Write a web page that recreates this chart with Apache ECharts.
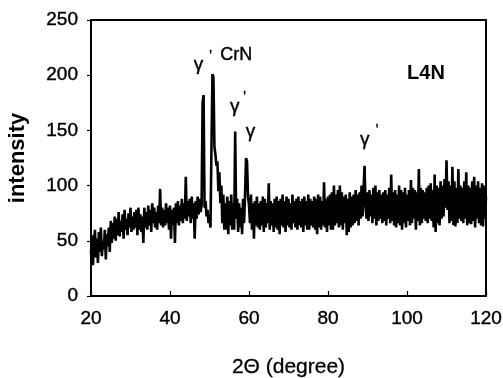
<!DOCTYPE html>
<html><head><meta charset="utf-8">
<script src="https://cdn.jsdelivr.net/npm/echarts@6/dist/echarts.min.js"></script>
<style>html,body{margin:0;padding:0;background:#fff}#c{width:503px;height:378px}</style>
</head><body><div id="c"></div>
<script>
// 2-theta sampling: start angle and step (degrees)
const angleStart = 20;
const angleStep = 0.25;
// intensity, 4 samples per degree, 20 .. 120
const intensity = [
  38,55,28,48, 60,35,52,30, 58,40,62,36, 50,42,60,33, 56,45,62,40,
  68,48,66,52, 72,50,70,55, 76,54,68,58, 74,52,78,60, 70,55,75,62,
  80,58,72,60, 76,62,78,55, 80,60,74,58, 72,48,80,62, 76,60,82,64,
  78,58,84,66, 80,62,76,60, 82,66,97,64, 80,62,78,64, 84,66,80,60,
  82,52,78,64, 80,48,84,66, 86,64,82,68, 88,66,84,70, 108,68,86,72,
  88,66,90,70, 84,52,86,70, 90,74,88,76, 82,175,182,80, 86,72,78,66,
  72,62,135,201, 198,135,128,118, 122,95,112,84, 100,66,92,60, 84,60,90,56,
  86,64,92,60, 84,60,149,70, 88,58,84,62, 80,56,88,66, 92,125,122,90,
  82,66,92,60, 84,52,86,64, 90,62,84,60, 86,64,90,58, 88,62,84,66,
  102,60,86,64, 84,58,88,62, 90,60,86,56, 88,64,92,62, 86,58,90,64,
  88,62,84,60, 92,66,86,62, 88,60,90,64, 86,62,88,58, 90,64,86,60,
  92,60,88,64, 86,62,90,60, 88,56,92,62, 90,60,86,64, 103,62,88,58,
  90,64,92,60, 94,60,100,64, 92,66,96,62, 100,64,94,60, 90,66,92,55,
  88,58,94,62, 90,64,92,66, 96,68,92,64, 94,70,100,72, 96,118,82,70,
  94,68,96,72, 92,66,98,70, 100,64,94,68, 96,70,92,66, 94,68,96,64,
  92,70,98,66, 110,68,94,64, 96,62,92,66, 100,64,96,60, 94,66,98,62,
  92,68,96,64, 105,66,98,70, 96,60,94,68, 115,64,98,66, 96,70,94,68,
  98,66,100,70, 102,68,96,62, 110,58,100,66, 98,64,104,70, 100,72,106,80,
  123,78,104,66, 100,68,117,64, 104,63,98,66, 115,70,100,68, 98,66,104,70,
  112,64,100,66, 98,65,104,68, 108,62,100,70, 104,66,98,64, 102,63,100,70,
  90
];
const xTicks = [20, 40, 60, 80, 100, 120];
const yTicks = [0, 50, 100, 150, 200, 250];
// peak annotations: text, angle, intensity, size
const annTexts  = ["γ", "'", "CrN", "γ", "'", "γ", "γ", "'"];
const annAngles = [47.2, 50.3, 56.8, 56.4, 58.9, 60.4, 89.3, 92.4];
const annValues = [209.5, 217, 218.5, 171, 180, 148.5, 141.5, 150.5];
const annSizes  = [19, 14, 18, 19, 14, 19, 19, 14];
const sampleName = "L4N";
const sampleAt = [104.8, 202];

const data = intensity.map((v, i) => [angleStart + i * angleStep, v]);
const font = '"Liberation Sans", Arial, sans-serif';
const chart = echarts.init(document.getElementById('c'), null, {renderer: 'canvas'});
const lbl = {fontFamily: font, fontSize: 19, color: '#000', textBorderColor: '#000', textBorderWidth: 0.4};
chart.setOption({
  animation: false,
  backgroundColor: '#fff',
  grid: {left: 91, right: 17, top: 20, bottom: 82, show: true, borderColor: '#000', borderWidth: 2,
         outerBoundsMode: 'none', containLabel: false},
  xAxis: {
    type: 'value', min: xTicks[0], max: xTicks[xTicks.length - 1], interval: 20,
    name: '2Θ (degree)', nameLocation: 'middle', nameGap: 61,
    nameTextStyle: {fontFamily: font, fontSize: 21, color: '#000', textBorderColor: '#000', textBorderWidth: 0.3},
    axisLine: {lineStyle: {color: '#000', width: 2}},
    axisTick: {inside: true, length: 5, lineStyle: {color: '#000', width: 1.2}},
    axisLabel: Object.assign({margin: 13}, lbl),
    splitLine: {show: false}
  },
  yAxis: {
    type: 'value', min: yTicks[0], max: yTicks[yTicks.length - 1], interval: 50,
    name: 'intensity', nameLocation: 'middle', nameGap: 62,
    nameTextStyle: {fontFamily: font, fontSize: 22, fontWeight: 'bold', color: '#000'},
    axisLine: {lineStyle: {color: '#000', width: 2}},
    axisTick: {length: 4, lineStyle: {color: '#000', width: 1.2}},
    axisLabel: Object.assign({margin: 13}, lbl),
    splitLine: {show: false}
  },
  series: [{
    type: 'line', data: data, symbol: 'none', silent: true,
    lineStyle: {color: '#000', width: 2.6}
  }]
});
const g = annTexts.map((t, i) => {
  const p = chart.convertToPixel({gridIndex: 0}, [annAngles[i], annValues[i]]);
  return {type: 'text', x: p[0], y: p[1], style: {text: t, fontFamily: font, fontSize: annSizes[i], fill: '#000', stroke: '#000', lineWidth: 0.4, align: 'center', verticalAlign: 'middle'}};
});
const pL = chart.convertToPixel({gridIndex: 0}, sampleAt);
g.push({type: 'text', x: pL[0], y: pL[1], style: {text: sampleName, fontFamily: font, fontSize: 20, fontWeight: 'bold', fill: '#000', align: 'center', verticalAlign: 'middle'}});
chart.setOption({graphic: g});
</script></body></html>
